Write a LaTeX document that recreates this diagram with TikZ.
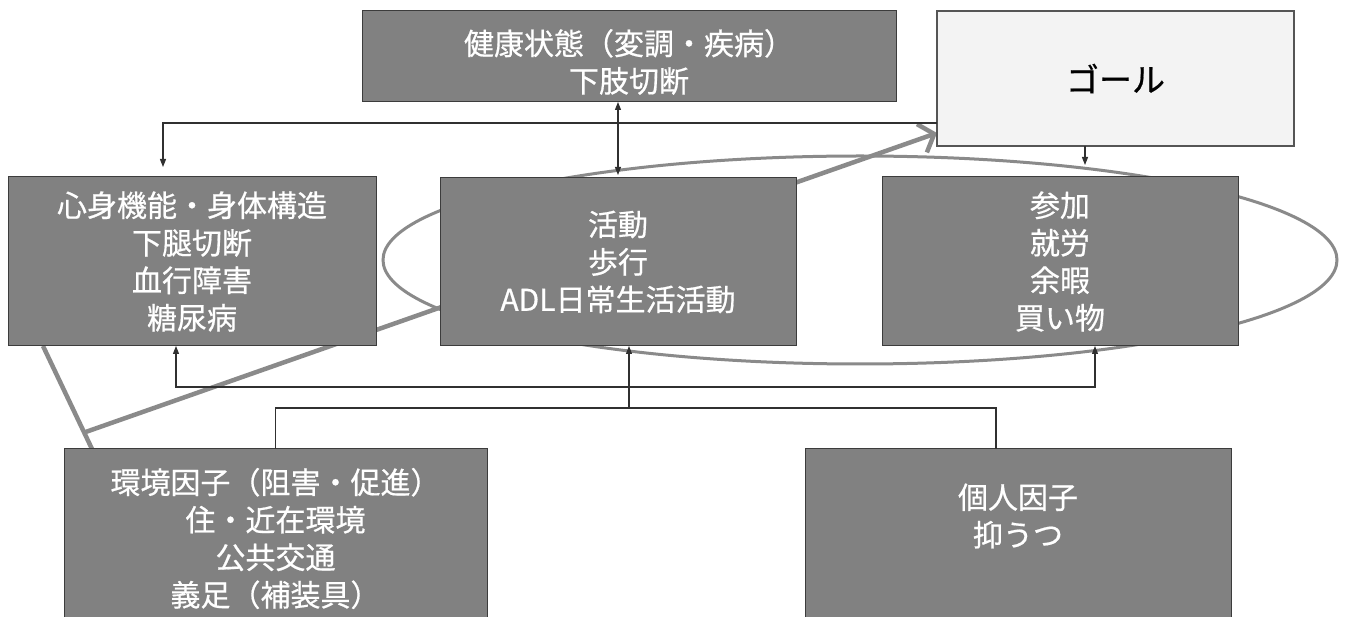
\documentclass[tikz,border=0pt]{standalone}
\usepackage{fontspec}
\newfontfamily\jp[FakeBold=0.6]{Noto Sans CJK JP}
\usetikzlibrary{arrows.meta,calc}
\pgfdeclarelayer{bg}
\pgfdeclarelayer{paper}
\pgfsetlayers{paper,bg,main}
\definecolor{boxfill}{HTML}{818181}
\definecolor{boxline}{HTML}{3C3C3C}
\definecolor{goalfill}{HTML}{F3F3F3}
\definecolor{goalline}{HTML}{555555}
\definecolor{connc}{HTML}{303030}
\definecolor{loopc}{HTML}{8A8A8A}
\begin{document}
\begin{tikzpicture}[x=1pt,y=-1pt,
  box/.style={draw=boxline, line width=1pt, fill=boxfill, text=white, inner sep=0pt, outer sep=0pt, align=center, font=\jp\fontsize{30}{37.5}\selectfont},
  goalbox/.style={draw=goalline, line width=2.5pt, fill=goalfill, text=black, inner sep=0pt, outer sep=0pt, align=center, font=\jp\fontsize{33}{40}\selectfont},
  txt/.style={text=white, inner sep=0pt, align=center, font=\jp\fontsize{30}{37.5}\selectfont},
  conn/.style={draw=connc, line width=1.2pt},
  arr/.style={-{Triangle[length=8pt,width=6pt]}},
  loopline/.style={draw=loopc, line width=3pt},
  thickline/.style={draw=loopc, line width=4.5pt},
  thickarr/.style={draw=loopc, line width=4.5pt, -{Straight Barb[length=13pt,width=30pt]}}]
\useasboundingbox (0,0) rectangle (1345,617);
\begin{pgfonlayer}{paper}
  \fill[white] (0,0) rectangle (1345,617);
\end{pgfonlayer}
\clip (0,0) rectangle (1345,617);

\node[box, minimum width=534pt, minimum height=91pt] (health) at (629,56.5) {};
\node[txt] (healthtxt) at (629,62) {健康状態（変調・疾病）\\下肢切断};
\node[goalbox, minimum width=357pt, minimum height=135pt] (goal) at (1115.5,78.5) {ゴール};
\node[box, minimum width=368pt, minimum height=169pt] (body) at (192,261.5) {心身機能・身体構造\\下腿切断\\血行障害\\糖尿病};
\node[box, minimum width=356pt, minimum height=168pt] (act) at (618,262) {活動\\歩行\\ADL日常生活活動};
\node[box, minimum width=356pt, minimum height=169pt] (part) at (1060,261.5) {参加\\就労\\余暇\\買い物};
\node[box, minimum width=423pt, minimum height=179pt] (env) at (275.5,538.5) {環境因子（阻害・促進）\\住・近在環境\\公共交通\\義足（補装具）};
\node[box, minimum width=426pt, minimum height=191pt] (pers) at (1018,544.5) {};
\node[txt] (perstxt) at (1018,516) {個人因子\\抑うつ};

\begin{pgfonlayer}{bg}
  \draw[loopline] (860,260) ellipse [x radius=477, y radius=104];
  \coordinate (eb) at ([xshift=28pt]env.north west);
  \coordinate (bb) at ([xshift=35pt]body.south west);
  \coordinate (jt) at ($(eb)!0.16!(bb)$);
  \draw[thickline] (eb) -- (bb);
  \draw[thickarr] (jt) -- ([yshift=-54.5pt]goal.west);
\end{pgfonlayer}

\coordinate (gl) at ([yshift=-44.5pt]goal.west);
\draw[conn,arr,shorten >=10pt] (gl) -| ([xshift=-29pt]body.north);
\draw[conn,{Triangle[length=8pt,width=6pt]}-{Triangle[length=8pt,width=6pt]},shorten >=3pt] (act.north |- health.south) -- (act.north);
\draw[conn,arr,shorten >=12pt] ([xshift=25pt]part.north |- goal.south) -- ([xshift=25pt]part.north);

\coordinate (lb) at (0,408);
\coordinate (la) at (0,387);
\coordinate (jb) at ([xshift=11pt]act.south |- lb);
\coordinate (ja) at ([xshift=11pt]act.south |- la);
\draw[conn] (env.north) |- (jb) -| ([xshift=-22pt]pers.north);
\draw[conn,arr] (jb) -- ([xshift=11pt]act.south);
\draw[conn,arr] (ja) -| ([xshift=-16pt]body.south);
\draw[conn,arr] (ja) -| ([xshift=35pt]part.south);
\end{tikzpicture}
\end{document}
